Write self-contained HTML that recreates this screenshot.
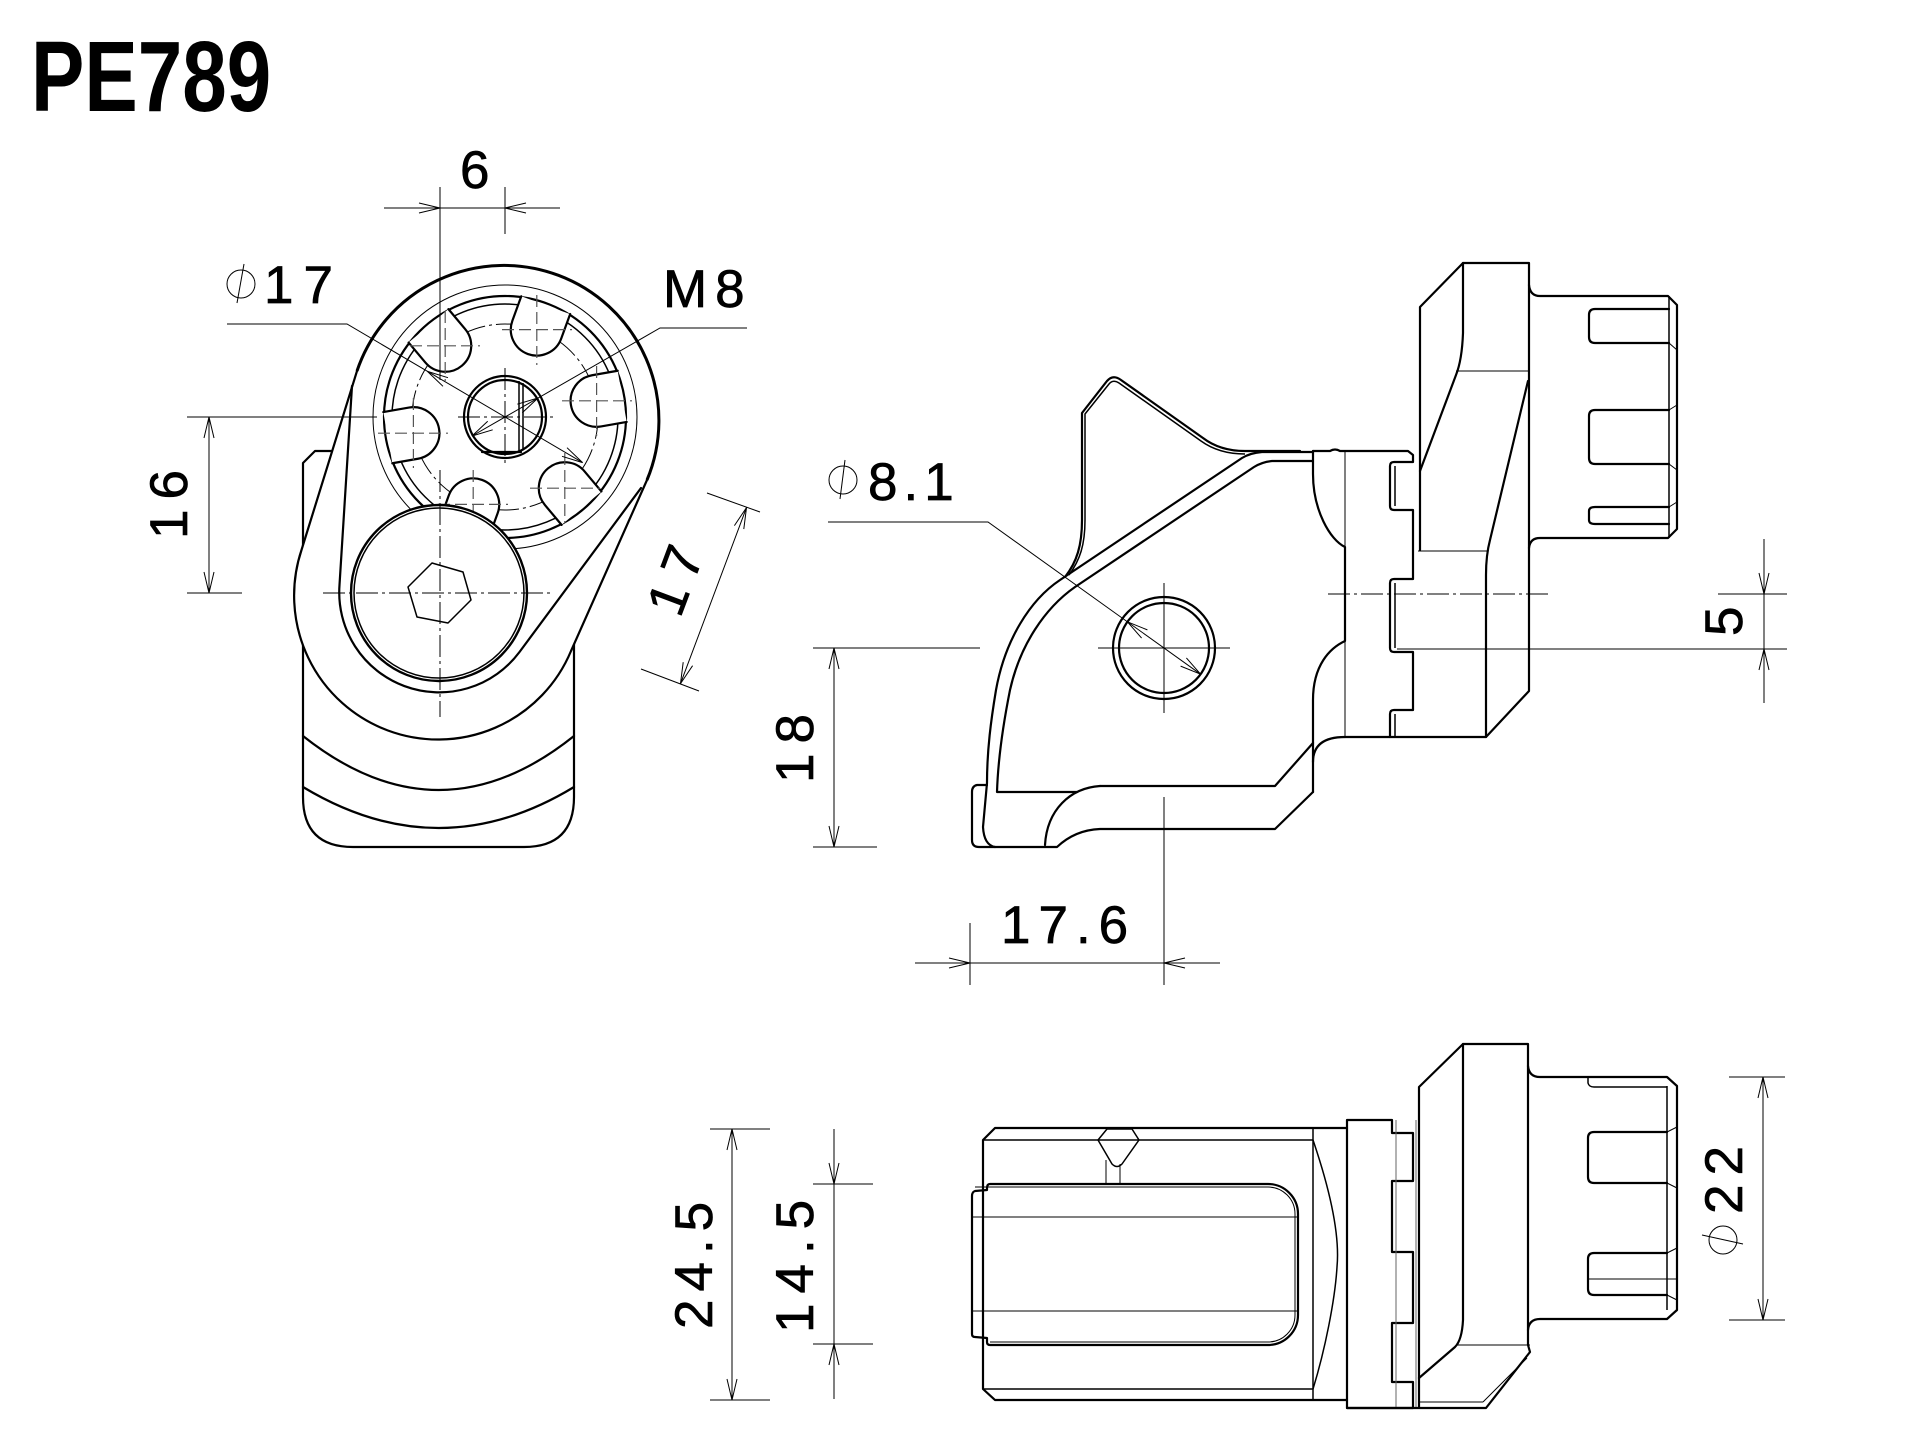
<!DOCTYPE html>
<html>
<head>
<meta charset="utf-8">
<style>
html,body{margin:0;padding:0;background:#fff;}
svg{display:block;}
.k{fill:none;stroke:#000;stroke-width:2.2;stroke-linejoin:round;stroke-linecap:round;}
.kk{fill:none;stroke:#000;stroke-width:3;stroke-linejoin:round;}
.m{fill:none;stroke:#000;stroke-width:1.5;stroke-linejoin:round;}
.t{fill:none;stroke:#000;stroke-width:1;}
.g{fill:none;stroke:#666;stroke-width:1;}
.dd{fill:none;stroke:#000;stroke-width:1;stroke-dasharray:22 4 3 4;}
.ds{fill:none;stroke:#555;stroke-width:1.2;stroke-dasharray:12 5;}
.ar{fill:none;stroke:#000;stroke-width:1;}
.tx{font-family:"Liberation Sans",Arial,sans-serif;font-size:53px;fill:#000;stroke:#000;stroke-width:0.7;}
</style>
</head>
<body>
<svg width="1920" height="1453" viewBox="0 0 1920 1453" xmlns="http://www.w3.org/2000/svg">
<rect x="0" y="0" width="1920" height="1453" fill="#fff"/>

<!-- TITLE -->
<text transform="translate(31,111) scale(0.8,1)" style="font-family:'Liberation Sans',Arial,sans-serif;font-weight:bold;font-size:100px;fill:#000;">PE789</text>

<!-- ================= LEFT VIEW ================= -->
<path class="k" d="M333,451 L315,451 L303,463 L303,797 Q303,847 353,847 L524,847 Q574,847 574,797 L574,643"/>
<path class="k" d="M303,736 Q439,844 574,736"/>
<path class="k" d="M303,787 Q439,869 574,787"/>

<path d="M357,371 A155,155 0 1 1 647,480 L571,651 A144,144 0 0 1 301.5,550 Z" fill="#fff" stroke="none"/>
<path class="kk" d="M357,371 A155,155 0 1 1 647,480"/>
<path class="k" d="M357,371 L301.5,550 A144,144 0 0 0 571,651 L647,480"/>
<path class="k" d="M352,386 L339.5,585 A100,100 0 0 0 519.5,652 L641,488"/>

<circle class="t" cx="505" cy="417" r="132"/>
<circle class="k" cx="505" cy="417" r="121"/>
<circle class="m" cx="505" cy="417" r="113"/>
<circle class="dd" cx="505" cy="417" r="93"/>

<g transform="translate(505,417)">
  <g transform="rotate(-70)"><path d="M119,-26 L93,-26 A26,26 0 0 0 93,26 L119,26 Z" fill="#fff"/><path class="k" d="M119,-26 L93,-26 A26,26 0 0 0 93,26 L119,26"/></g>
  <g transform="rotate(-10)"><path d="M119,-26 L93,-26 A26,26 0 0 0 93,26 L119,26 Z" fill="#fff"/><path class="k" d="M119,-26 L93,-26 A26,26 0 0 0 93,26 L119,26"/></g>
  <g transform="rotate(50)"><path d="M119,-26 L93,-26 A26,26 0 0 0 93,26 L119,26 Z" fill="#fff"/><path class="k" d="M119,-26 L93,-26 A26,26 0 0 0 93,26 L119,26"/></g>
  <g transform="rotate(110)"><path d="M119,-26 L93,-26 A26,26 0 0 0 93,26 L119,26 Z" fill="#fff"/><path class="k" d="M119,-26 L93,-26 A26,26 0 0 0 93,26 L119,26"/></g>
  <g transform="rotate(170)"><path d="M119,-26 L93,-26 A26,26 0 0 0 93,26 L119,26 Z" fill="#fff"/><path class="k" d="M119,-26 L93,-26 A26,26 0 0 0 93,26 L119,26"/></g>
  <g transform="rotate(230)"><path d="M119,-26 L93,-26 A26,26 0 0 0 93,26 L119,26 Z" fill="#fff"/><path class="k" d="M119,-26 L93,-26 A26,26 0 0 0 93,26 L119,26"/></g>
</g>
<path class="ds" d="M502,329.6 H572 M536.8,295 V365"/>
<path class="ds" d="M562,400.8 H632 M596.6,366 V436"/>
<path class="ds" d="M530,488.2 H600 M564.8,453 V523"/>
<path class="ds" d="M438,504.4 H508 M473.2,470 V540"/>
<path class="ds" d="M378,433.2 H448 M413.4,398 V468"/>
<path class="ds" d="M410,345.8 H480 M445.2,311 V381"/>

<circle class="k" cx="505" cy="417" r="41"/>
<circle class="k" cx="505" cy="417" r="37"/>
<path class="m" d="M519,381 V452 M523,383 V450"/>
<path class="k" d="M482,452 H521"/>
<path class="dd" d="M505,368 V466 M458,417 H553"/>

<circle cx="439" cy="593" r="88" fill="#fff" stroke="#000" stroke-width="2.4"/>
<circle class="m" cx="439" cy="593" r="85"/>
<polygon class="m" points="408,587 432,563 463,572 471,600 448,623 417,617"/>
<path class="dd" d="M323,593 H553"/>
<path class="dd" d="M440,470 V717"/>

<path class="t" d="M440,187 V380 M505,187 V234 M384,208 H560"/>
<polyline class="ar" points="419,203 440,208 419,213"/>
<polyline class="ar" points="526,203 505,208 526,213"/>
<text class="tx" x="460" y="188">6</text>

<circle class="t" cx="241" cy="284" r="14"/>
<path class="t" d="M244,264 L237,303"/>
<text class="tx" x="264" y="303" letter-spacing="10">17</text>
<path class="t" d="M227,324 H347 L582.6,462.6"/>
<polyline class="ar" points="448,377.7 427.4,371.4 443,386.3"/>
<polyline class="ar" points="567,447.7 582.6,462.6 562,456.3"/>

<text class="tx" x="663" y="307" letter-spacing="8">M8</text>
<path class="t" d="M747,328 H660 L472,436"/>
<polyline class="ar" points="492.7,429.8 472,436 487.7,421.2"/>
<polyline class="ar" points="522.3,412.8 538,398 517.3,404.2"/>

<path class="t" d="M187,417 H377 M187,593 H242 M209,417 V593"/>
<polyline class="ar" points="204,438 209,417 214,438"/>
<polyline class="ar" points="204,572 209,593 214,572"/>
<text class="tx" transform="translate(187,539) rotate(-90)" letter-spacing="10">16</text>

<path class="t" d="M707,493 L760,512 M641,669 L699,691 M746.5,507.6 L680.5,683.6"/>
<polyline class="ar" points="743.8,529.1 746.5,507.6 734.4,525.6"/>
<polyline class="ar" points="692.6,665.7 680.5,683.6 683.2,662.2"/>
<text class="tx" transform="translate(680,619) rotate(-69.4)" letter-spacing="10">17</text>

<!-- ================= MIDDLE (SIDE) VIEW ================= -->
<path class="k" d="M1065,577 C1077,562 1082,545 1082,520 L1082,413 L1107,381 Q1113,374 1121,380 L1203,438 Q1220,451 1245,451 L1300,451"/>
<path class="m" d="M1069,575 C1080,560 1085,545 1085,520 L1085,414 L1109,384 Q1113,379 1119,383 L1201,441 Q1219,454 1245,454"/>
<path class="k" d="M1313,452 L1262,452 Q1250,453 1242,458 L1060,580 C1030,600 1005,640 996,690 C991,720 987,750 987,783 L983,827 Q984,845 995,847"/>
<path class="k" d="M1313,461 L1272,461 Q1262,462 1254,467 L1075,587 C1045,608 1020,645 1010,690 C1003,725 998,760 997,792 L1077,792"/>
<path class="k" d="M987,785 L977,785 Q972,786 972,792 L972,840 Q972,847 979,847 L1057,847 Q1075,830 1100,829 L1275,829 L1313,792"/>
<path class="k" d="M1100,786 C1070,788 1047,810 1045,845"/>
<path class="k" d="M1100,786 L1275,786 L1313,743"/>
<path class="k" d="M1313,451 L1313,474 C1313,510 1330,540 1345,547 L1345,641 C1330,648 1313,665 1313,700 L1313,792"/>
<path class="k" d="M1313,762 Q1313,737 1345,737"/>
<path class="t" d="M1345,452 V737"/>
<path class="k" d="M1313,451 L1330,451 Q1335,448 1340,451 L1408,451 L1413,455 L1413,462 L1394,462 Q1390,462 1390,466 L1390,506 Q1390,510 1394,510 L1413,510 L1413,579 L1394,579 Q1390,579 1390,583 L1390,648 Q1390,652 1394,652 L1413,652 L1413,710 L1394,710 Q1390,710 1390,714 L1390,737"/>
<path class="m" d="M1395,466 V506 M1395,583 V648 M1395,714 V737"/>
<path class="k" d="M1420,550 L1420,307 L1463,263 L1529,263 L1529,691 L1486,737 L1345,737"/>
<path class="k" d="M1463,263 L1463,333 Q1462,360 1456,375 L1420,471"/>
<path class="t" d="M1456,371 L1528,371 M1418,551 L1487,551"/>
<path class="k" d="M1528,381 L1490,540 Q1486,555 1486,575 L1486,737"/>
<path class="k" d="M1529,285 Q1530,296 1540,296 L1668,296 L1677,305 L1677,529 L1668,538 L1540,538 Q1530,538 1529,548"/>
<path class="m" d="M1669,296 V538"/>
<path class="k" d="M1669,309 L1595,309 Q1589,309 1589,315 L1589,337 Q1589,343 1595,343 L1669,343"/>
<path class="k" d="M1669,410 L1595,410 Q1589,410 1589,416 L1589,458 Q1589,464 1595,464 L1669,464"/>
<path class="k" d="M1669,507 L1595,507 Q1589,507 1589,511 L1589,520 Q1589,524 1595,524 L1669,524"/>
<path class="t" d="M1669,343 L1677,350 M1669,410 L1677,405 M1669,464 L1677,470 M1669,507 L1677,502"/>
<path class="dd" d="M1328,594 H1549"/>
<circle class="k" cx="1164" cy="648" r="51"/>
<circle class="k" cx="1164" cy="648" r="45"/>
<path class="t" d="M1164,583 V713 M1098,648 H1230"/>
<circle class="t" cx="843" cy="480" r="14"/>
<path class="t" d="M845,460 L840,499"/>
<text class="tx" x="868" y="500" letter-spacing="6">8.1</text>
<path class="t" d="M828,522 H988 L1200.6,674.2"/>
<polyline class="ar" points="1186.4,657.9 1200.6,674.2 1180.6,666.1"/>
<polyline class="ar" points="1147.4,629.9 1127.4,621.8 1141.6,638.1"/>
<path class="t" d="M813,648 H980 M813,847 H877 M834,648 V847"/>
<polyline class="ar" points="829,669 834,648 839,669"/>
<polyline class="ar" points="829,826 834,847 839,826"/>
<text class="tx" transform="translate(813,783) rotate(-90)" letter-spacing="10">18</text>
<path class="t" d="M915,963 H1220 M970,923 V985 M1164,797 V985"/>
<polyline class="ar" points="949,958 970,963 949,968"/>
<polyline class="ar" points="1185,958 1164,963 1185,968"/>
<text class="tx" x="1001" y="943" letter-spacing="8">17.6</text>
<path class="t" d="M1718,594 H1787 M1397,649 H1787 M1764,539 V703"/>
<polyline class="ar" points="1759,573 1764,594 1769,573"/>
<polyline class="ar" points="1759,670 1764,649 1769,670"/>
<text class="tx" transform="translate(1742,636) rotate(-90)">5</text>

<!-- ================= BOTTOM VIEW ================= -->
<path class="k" d="M1347,1128 L995,1128 L983,1140 L983,1389 L995,1400 L1347,1400"/>
<path class="m" d="M983,1140 H1313 M983,1389 H1313 M1313,1128 V1400"/>
<path class="m" d="M1313,1140 C1330,1190 1340,1235 1337,1267 C1335,1300 1325,1350 1313,1389"/>
<path class="m" d="M1098,1140 L1107,1129 L1132,1129 L1139,1140 L1122,1164 Q1117,1169 1112,1164 Z"/>
<path class="t" d="M1106,1160 V1184 M1120,1164 V1184"/>
<path class="k" d="M1268,1184 L990,1184 Q987,1184 987,1188 L987,1190 L975,1191 Q972,1192 972,1196 L972,1334 Q972,1337 975,1337 L987,1338 L987,1342 Q987,1345 990,1345 L1268,1345 A30,30 0 0 0 1298,1315 L1298,1214 A30,30 0 0 0 1268,1184 Z"/>
<path class="t" d="M975,1187 L990,1187 L1268,1187 A27,27 0 0 1 1295,1214 L1295,1315 A27,27 0 0 1 1268,1342 L990,1342"/>
<path class="t" d="M973,1217 H1297 M973,1311 H1297"/>
<path class="k" d="M1347,1120 L1347,1408 M1347,1120 L1392,1120 L1392,1133 L1413,1133 L1413,1181 L1392,1181 L1392,1252 L1413,1252 L1413,1323 L1392,1323 L1392,1382 L1413,1382 L1413,1408 L1347,1408"/>
<path class="g" d="M1416,1120 V1408 M1396,1120 V1408"/>
<path class="k" d="M1419,1408 L1419,1087 L1463,1044 L1528,1044 L1528,1345 L1530,1352 L1486,1408 L1347,1408"/>
<path class="k" d="M1463,1044 L1463,1320 Q1462,1340 1455,1347 L1419,1378"/>
<path class="t" d="M1457,1345 L1530,1345 M1419,1402 L1483,1402 M1527,1358 L1483,1402"/>
<path class="k" d="M1528,1066 Q1529,1077 1540,1077 L1667,1077 L1677,1086 L1677,1310 L1667,1319 L1540,1319 Q1529,1319 1528,1330"/>
<path class="m" d="M1667,1086 V1310"/>
<path class="m" d="M1588,1077 L1588,1083 Q1589,1087 1594,1087 L1667,1087"/>
<path class="k" d="M1667,1132 L1594,1132 Q1588,1132 1588,1138 L1588,1177 Q1588,1183 1594,1183 L1667,1183"/>
<path class="k" d="M1667,1253 L1594,1253 Q1588,1253 1588,1259 L1588,1289 Q1588,1295 1594,1295 L1667,1295"/>
<path class="t" d="M1588,1279 H1677 M1667,1132 L1677,1127 M1667,1183 L1677,1188 M1667,1253 L1677,1248 M1667,1295 L1677,1300"/>

<path class="t" d="M710,1129 H770 M710,1400 H770 M732,1129 V1400"/>
<polyline class="ar" points="727,1150 732,1129 737,1150"/>
<polyline class="ar" points="727,1379 732,1400 737,1379"/>
<text class="tx" transform="translate(712,1329) rotate(-90)" letter-spacing="8">24.5</text>
<path class="t" d="M813,1184 H873 M813,1344 H873 M834,1129 V1399"/>
<polyline class="ar" points="829,1163 834,1184 839,1163"/>
<polyline class="ar" points="829,1365 834,1344 839,1365"/>
<text class="tx" transform="translate(813,1333) rotate(-90)" letter-spacing="10">14.5</text>
<path class="t" d="M1729,1077 H1785 M1729,1320 H1785 M1763,1077 V1320"/>
<polyline class="ar" points="1758,1098 1763,1077 1768,1098"/>
<polyline class="ar" points="1758,1299 1763,1320 1768,1299"/>
<circle class="t" cx="1723" cy="1240" r="14"/>
<path class="t" d="M1702,1235 L1743,1244"/>
<text class="tx" transform="translate(1742,1214) rotate(-90)" letter-spacing="9">22</text>
</svg>
</body>
</html>
